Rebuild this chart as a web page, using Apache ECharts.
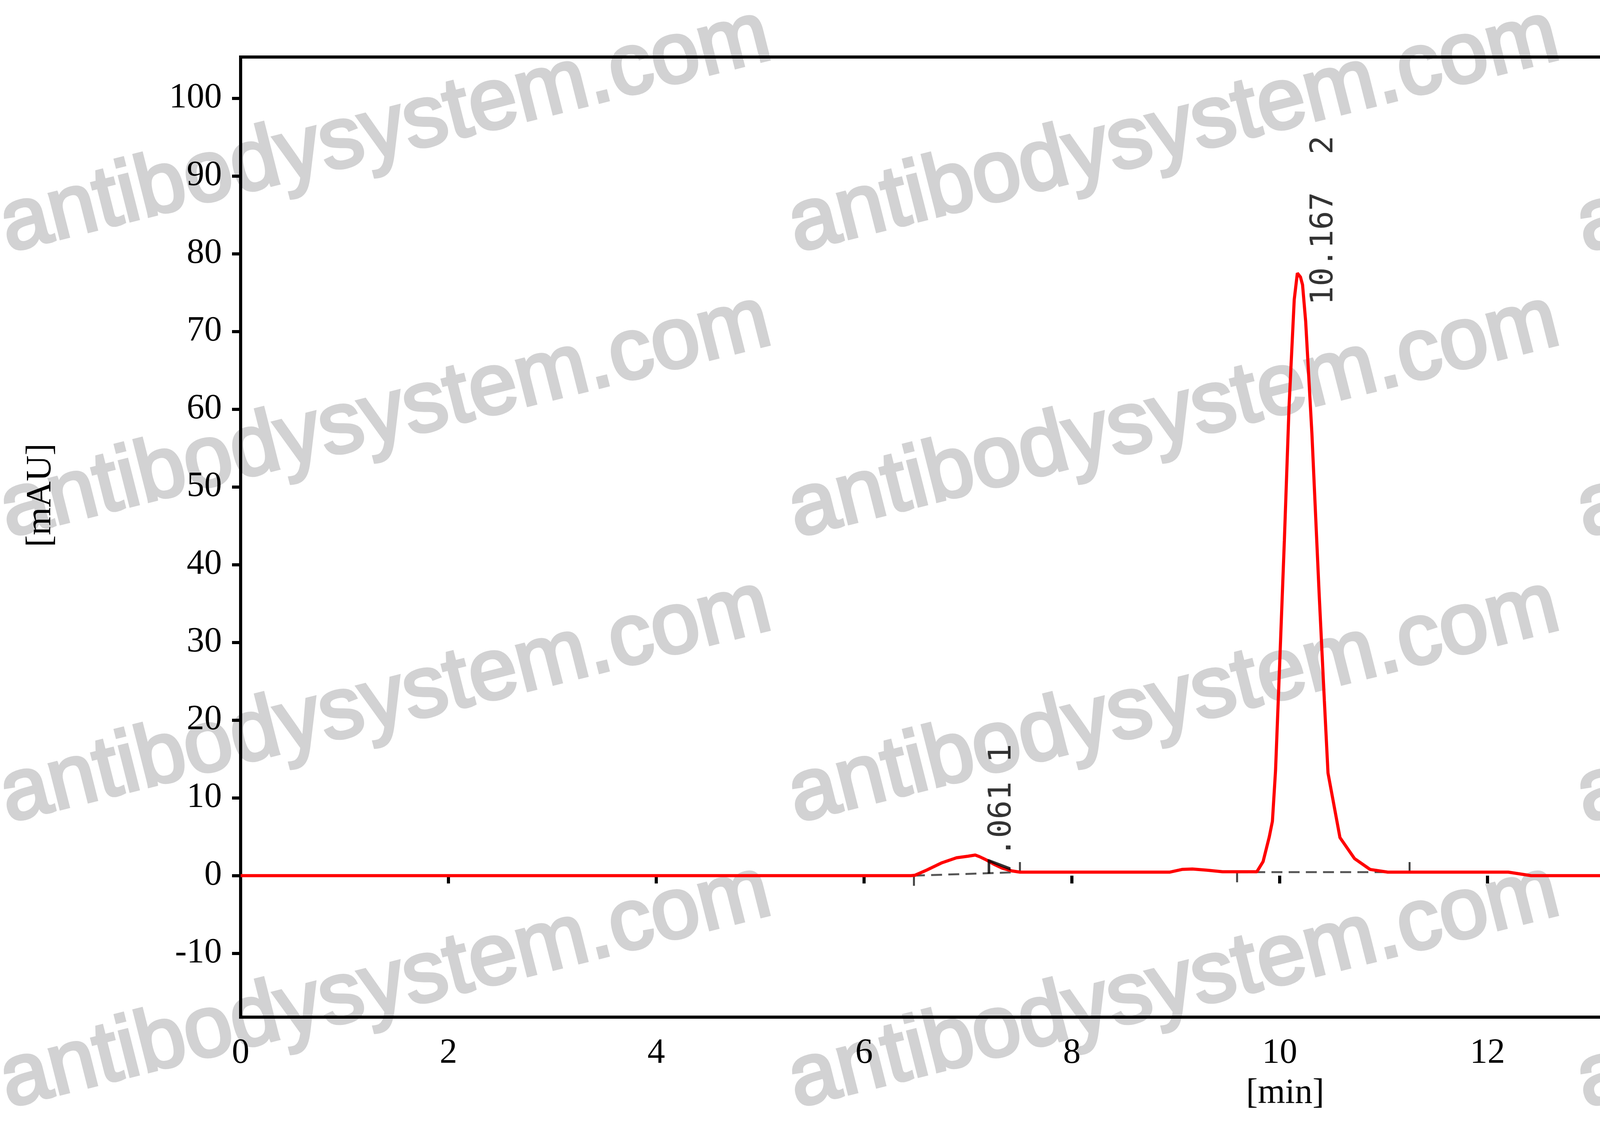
<!DOCTYPE html>
<html>
<head>
<meta charset="utf-8">
<title>Chromatogram</title>
<script src="https://cdn.jsdelivr.net/npm/echarts@6/dist/echarts.min.js"></script>
<style>
  html, body { margin: 0; padding: 0; background: #fff; }
  #chart { width: 6033px; height: 2875px; }
</style>
</head>
<body>
<div id="chart"></div>
<script>
// 保留时间 (min) 和吸光度 (mAU)，从图上读出来的
const retention = [0, 6.45, 6.49, 6.6, 6.75, 6.89, 7.0, 7.07, 7.11, 7.18, 7.26, 7.33, 7.42, 7.50,
  8.94, 9.06, 9.16, 9.30, 9.45, 9.78, 9.84, 9.90, 9.93, 9.96, 10.00, 10.045, 10.09, 10.14, 10.17,
  10.20, 10.22, 10.25, 10.31, 10.38, 10.43, 10.465, 10.58, 10.72, 10.87, 11.04, 12.2, 12.42,
  13.59, 13.64, 13.68, 13.84, 13.90, 13.985, 14.06, 14.12, 14.23, 14.29, 14.47, 14.52, 14.61,
  14.65, 14.80, 14.85, 15.07, 15.09, 15.13, 15.23, 15.32, 15.46, 15.54, 15.67, 15.73, 15.79,
  15.86, 15.94, 16.0, 16.06, 20];
const absorbance = [0, 0, 0.05, 0.7, 1.66, 2.3, 2.5, 2.65, 2.45, 2.0, 1.4, 0.96, 0.62, 0.45,
  0.45, 0.8, 0.85, 0.7, 0.5, 0.5, 1.8, 5.0, 7.0, 13.5, 27.3, 43.1, 60.3, 74.1, 77.5,
  77.0, 76.0, 71.3, 56.9, 36.2, 22.5, 13.2, 4.9, 2.2, 0.8, 0.45, 0.45, 0,
  0, -0.53, -0.87, -4.46, -4.2, -0.53, 0.38, -0.45, -2.79, -2.46, 2.14, 1.56, -1.7,
  -2.04, -0.12, 0.05, 0.05, -0.37, 0.05, 0.05, 0.89, 3.73, 2.8, -2.46, -2.88, -2.29,
  -1.04, -0.28, -0.28, 0, 0];

// 积分基线 [起点t, 起点v, 终点t, 终点v]
const baselines = [[6.48, 0, 7.50, 0.45], [9.59, 0.45, 11.25, 0.45]];
// 峰标注
const peakNames = ['7.061 1', '10.167  2'];
const peakLabelPos = [[7.33, 0.0], [10.43, 73.4]];

const xTicks = [0, 2, 4, 6, 8, 10, 12, 14, 16, 18];
const yTicks = [-10, 0, 10, 20, 30, 40, 50, 60, 70, 80, 90, 100];

window.onload = function () {
  const chart = echarts.init(document.getElementById('chart'));

  const trace = retention.map((t, i) => [t, absorbance[i]]);

  // 基线虚线和两端的小竖线
  const baseSeries = [];
  baselines.forEach(b => {
    baseSeries.push({
      type: 'line', data: [[b[0], b[1]], [b[2], b[3]]], symbol: 'none', silent: true,
      lineStyle: { color: '#555', width: 5, type: [28, 16] }, z: 3
    });
    baseSeries.push({
      type: 'line', data: [[b[0], b[1]], [b[0], b[1] - 1.3]], symbol: 'none', silent: true,
      lineStyle: { color: '#444', width: 5 }, z: 3
    });
    baseSeries.push({
      type: 'line', data: [[b[2], b[3]], [b[2], b[3] + 1.3]], symbol: 'none', silent: true,
      lineStyle: { color: '#444', width: 5 }, z: 3
    });
  });

  // 水印（放在最底层）
  const marks = [];
  const ang = 14.2 * Math.PI / 180;
  for (let c = 0; c < 3; c++) {
    for (let r = 0; r < 4; r++) {
      marks.push({
        type: 'text', x: 987 + 2018 * c, y: 337 + 730 * r, rotation: ang, silent: true, z: -10,
        style: {
          text: 'antibodysystem.com', font: '222px "Liberation Sans"',
          fill: '#d2d2d3', stroke: '#d2d2d3', lineWidth: 8,
          align: 'center', verticalAlign: 'middle'
        }
      });
    }
  }

  const option = {
    animation: false,
    backgroundColor: '#fff',
    grid: {
      left: 616, right: 97, top: 146, bottom: 271,
      show: true, borderColor: '#000', borderWidth: 8, backgroundColor: 'transparent', z: 2
    },
    xAxis: {
      type: 'value', min: 0, max: 20,
      axisLine: { show: false },
      splitLine: { show: false },
      axisTick: { show: true, length: 20, lineStyle: { color: '#000', width: 8 }, customValues: xTicks },
      axisLabel: {
        customValues: xTicks, margin: 48,
        fontFamily: 'Liberation Serif', fontSize: 90, color: '#000'
      }
    },
    yAxis: {
      type: 'value', min: -18.2, max: 105.3,
      axisLine: { show: false },
      splitLine: { show: false },
      axisTick: { show: true, length: 22, lineStyle: { color: '#000', width: 8 }, customValues: yTicks },
      axisLabel: {
        customValues: yTicks, margin: 48,
        fontFamily: 'Liberation Serif', fontSize: 90, color: '#000'
      }
    },
    graphic: marks.concat([
      {
        type: 'text', x: 105, y: 1268, rotation: Math.PI / 2, silent: true, z: 5,
        style: { text: '[mAU]', font: '92px "Liberation Serif"', fill: '#000', align: 'center', verticalAlign: 'middle' }
      },
      {
        type: 'text', x: 3290, y: 2800, silent: true, z: 5,
        style: { text: '[min]', font: '90px "Liberation Serif"', fill: '#000', align: 'center', verticalAlign: 'middle' }
      }
    ]),
    series: [
      {
        name: 'trace', type: 'line', data: trace, symbol: 'none', z: 4,
        lineStyle: { color: '#ff0000', width: 8 }
      },
      {
        type: 'scatter', symbolSize: 0, silent: true, z: 5,
        data: peakLabelPos.map((p, i) => ({ value: p, name: peakNames[i] })),
        label: {
          show: true, formatter: '{b}', position: 'inside', rotate: 90,
          align: 'left', verticalAlign: 'middle',
          fontFamily: 'DejaVu Sans Mono', fontSize: 80, color: '#000'
        }
      }
    ].concat(baseSeries)
  };

  chart.setOption(option);
  window.onresize = function () { chart.resize(); };
};
</script>
</body>
</html>
